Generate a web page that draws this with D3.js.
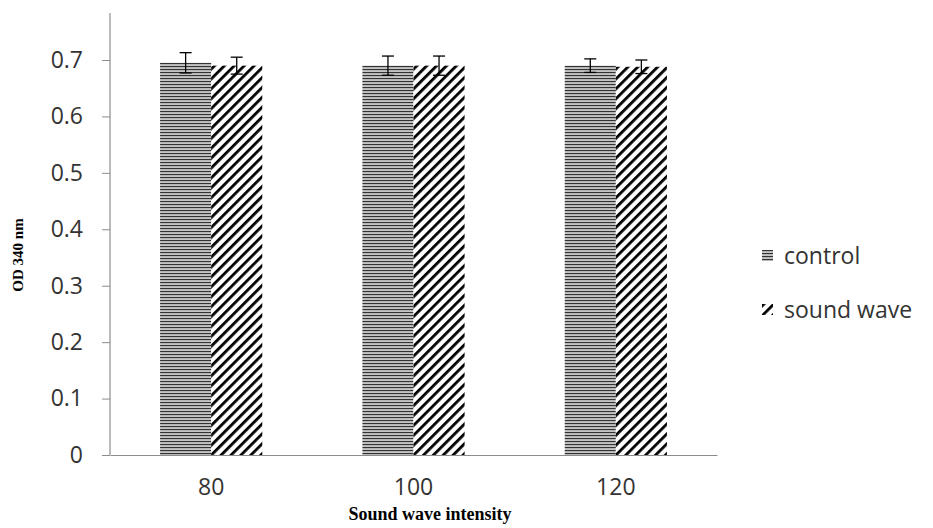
<!DOCTYPE html>
<html><head><meta charset="utf-8">
<script src="https://cdn.jsdelivr.net/npm/d3@7"></script>
<style>body{margin:0;background:#fff}svg{display:block}</style>
</head><body>
<svg id="c" width="933" height="528"></svg>
<script>
const categories = ["80", "100", "120"];
const seriesNames = ["control", "sound wave"];
const controlValues = [0.695, 0.69, 0.69];
const soundValues = [0.69, 0.69, 0.688];
const controlErr = [0.018, 0.017, 0.012];
const soundErr = [0.015, 0.017, 0.012];
const yTicks = [0, 0.1, 0.2, 0.3, 0.4, 0.5, 0.6, 0.7];

const svg = d3.select("#c");
const defs = svg.append("defs");
const ph = defs.append("pattern").attr("id","hlines").attr("patternUnits","userSpaceOnUse").attr("width",6).attr("height",3);
ph.append("rect").attr("width",6).attr("height",3).attr("fill","#c4c4c4");
ph.append("rect").attr("y",0).attr("width",6).attr("height",1.1).attr("fill","#333");
const pd = defs.append("pattern").attr("id","diag").attr("patternUnits","userSpaceOnUse").attr("width",7).attr("height",7).attr("patternTransform","rotate(45)");
pd.append("rect").attr("width",7).attr("height",7).attr("fill","#fff");
pd.append("rect").attr("x",0).attr("width",2.8).attr("height",7).attr("fill","#000");
const fills = ["url(#hlines)","url(#diag)"];

const left = 110, right = 717, y0 = 455;
const x = d3.scaleBand().domain(categories).range([left, right]);
const xs = d3.scaleBand().domain(seriesNames).range([0, x.bandwidth()]).paddingInner(0).paddingOuter(0.98);
const y = d3.scaleLinear().domain([0, 0.7]).range([y0, 60]);

const tickFont = "'Open Sans', sans-serif";

// axes
const ya = svg.append("g").attr("transform",`translate(${left},0)`)
  .call(d3.axisLeft(y).tickValues(yTicks).tickFormat(d3.format("")).tickSizeOuter(0).tickSize(8).tickPadding(19));
ya.select(".domain").remove();
ya.selectAll("line").attr("stroke","#8c8c8c");
ya.selectAll("text").attr("font-family",tickFont).attr("font-size",23).attr("fill","#333");
svg.append("line").attr("x1",left).attr("x2",left).attr("y1",13).attr("y2",y0).attr("stroke","#8c8c8c").attr("stroke-width",1.2);

const data = categories.map((c,i)=>({c, vals:[
  {s:seriesNames[0], v:controlValues[i], e:controlErr[i], k:0},
  {s:seriesNames[1], v:soundValues[i], e:soundErr[i], k:1}]}));

const g = svg.append("g");
const grp = g.selectAll("g.grp").data(data).join("g").attr("transform",d=>`translate(${x(d.c)},0)`);
grp.selectAll("rect").data(d=>d.vals).join("rect")
  .attr("x",d=>xs(d.s)).attr("width",xs.bandwidth())
  .attr("y",d=>y(d.v)).attr("height",d=>y0-y(d.v)).attr("fill",d=>fills[d.k]);
const eb = grp.selectAll("g.eb").data(d=>d.vals).join("g");
const cx = d=>xs(d.s)+xs.bandwidth()/2;
eb.append("line").attr("x1",cx).attr("x2",cx)
  .attr("y1",d=>y(d.v+d.e)).attr("y2",d=>y(d.v-d.e)).attr("stroke","#000").attr("stroke-width",1.3);
eb.append("line").attr("x1",d=>cx(d)-6).attr("x2",d=>cx(d)+6)
  .attr("y1",d=>y(d.v+d.e)).attr("y2",d=>y(d.v+d.e)).attr("stroke","#000").attr("stroke-width",1.3);
eb.append("line").attr("x1",d=>cx(d)-6).attr("x2",d=>cx(d)+6)
  .attr("y1",d=>y(d.v-d.e)).attr("y2",d=>y(d.v-d.e)).attr("stroke","#000").attr("stroke-width",1.3);

// x axis
const xa = svg.append("g").attr("transform",`translate(0,${y0})`)
  .call(d3.axisBottom(x).tickSize(0).tickPadding(24));
xa.select(".domain").attr("stroke","#8c8c8c").attr("stroke-width",1.2);
xa.selectAll("text").attr("font-family",tickFont).attr("font-size",23).attr("fill","#333");

// titles
svg.append("text").attr("x",430).attr("y",520).attr("text-anchor","middle")
  .attr("font-family","'Liberation Serif', serif").attr("font-weight","bold").attr("font-size",18).text("Sound wave intensity");
svg.append("text").attr("transform","translate(23,255) rotate(-90)").attr("text-anchor","middle")
  .attr("font-family","'Liberation Serif', serif").attr("font-weight","bold").attr("font-size",15).text("OD 340 nm");

// legend
const lg = svg.append("g").selectAll("g").data(seriesNames).join("g")
  .attr("transform",(d,i)=>`translate(762,${250+i*54})`);
lg.append("rect").attr("width",11).attr("height",11).attr("fill",(d,i)=>fills[i]);
lg.append("text").attr("x",22).attr("y",14).attr("font-family",tickFont).attr("font-size",23).attr("fill","#333").text(d=>d);
</script>
</body></html>
